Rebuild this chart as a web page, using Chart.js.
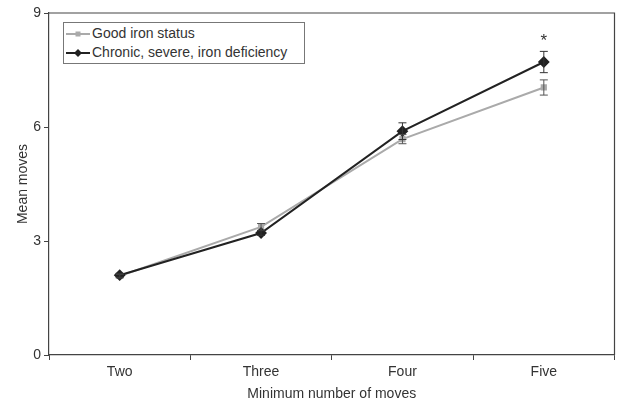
<!DOCTYPE html>
<html>
<head>
<meta charset="utf-8">
<script src="https://cdn.jsdelivr.net/npm/chart.js@4/dist/chart.umd.min.js"></script>
<style>
  body { margin: 0; background: #fff; }
  #wrap { position: relative; width: 621px; height: 407px; }
  #legend {
    position: absolute; left: 63px; top: 22px; width: 240px; height: 40px;
    border: 1px solid #777; background: #fff;
    font: 14px "Liberation Sans", Arial, sans-serif; color: #333;
  }
  .row { position: absolute; left: 2px; height: 18px; line-height: 18px; }
  .row svg { vertical-align: middle; margin-right: 2px; }
</style>
</head>
<body>
<div id="wrap">
  <canvas id="chart" width="621" height="407"></canvas>
  <div id="legend">
    <div class="row" style="top:1px">
      <svg width="24" height="10"><line x1="0" y1="5" x2="24" y2="5" stroke="#aaa" stroke-width="2"/><rect x="9.5" y="2.5" width="5" height="5" fill="#aaa"/></svg>Good iron status
    </div>
    <div class="row" style="top:20px">
      <svg width="24" height="10"><line x1="0" y1="5" x2="24" y2="5" stroke="#222" stroke-width="2"/><polygon points="12,1 16,5 12,9 8,5" fill="#222"/></svg>Chronic, severe, iron deficiency
    </div>
  </div>
</div>
<script>
const categories = ['Two', 'Three', 'Four', 'Five'];
const goodIron = [2.08, 3.37, 5.68, 7.04];
const goodIronErr = [0.05, 0.09, 0.12, 0.2];
const chronic = [2.1, 3.21, 5.89, 7.71];
const chronicErr = [0.05, 0.06, 0.22, 0.28];
const yTicks = [0, 3, 6, 9];
const starAt = 3; // category index with asterisk

const font = { size: 14, family: '"Liberation Sans", Arial' };

const errorBars = {
  id: 'errorBars',
  afterDatasetsDraw(chart) {
    const ctx = chart.ctx;
    const x = chart.scales.x, y = chart.scales.y;
    const errs = [goodIronErr, chronicErr];
    const vals = [goodIron, chronic];
    const cols = ['#555', '#333'];
    vals.forEach((data, i) => {
      data.forEach((v, j) => {
        const px = x.getPixelForValue(j);
        const top = y.getPixelForValue(v + errs[i][j]);
        const bot = y.getPixelForValue(v - errs[i][j]);
        ctx.save();
        ctx.strokeStyle = cols[i];
        ctx.lineWidth = 1;
        ctx.beginPath();
        ctx.moveTo(px, top); ctx.lineTo(px, bot);
        ctx.moveTo(px - 4, top); ctx.lineTo(px + 4, top);
        ctx.moveTo(px - 4, bot); ctx.lineTo(px + 4, bot);
        ctx.stroke();
        ctx.restore();
      });
    });
    // asterisk
    const sx = x.getPixelForValue(starAt);
    const sy = y.getPixelForValue(chronic[starAt] + chronicErr[starAt]) - 2;
    ctx.save();
    ctx.fillStyle = '#333';
    ctx.font = '17px "Liberation Sans", Arial, sans-serif';
    ctx.textAlign = 'center';
    ctx.textBaseline = 'bottom';
    ctx.fillText('*', sx, sy);
    ctx.restore();
  },
  afterDraw(chart) {
    const a = chart.chartArea, ctx = chart.ctx;
    ctx.save();
    ctx.strokeStyle = '#444';
    ctx.lineWidth = 1.2;
    ctx.beginPath();
    ctx.moveTo(a.left, a.top); ctx.lineTo(a.right, a.top); ctx.lineTo(a.right, a.bottom);
    ctx.stroke();
    ctx.restore();
  }
};

new Chart(document.getElementById('chart'), {
  type: 'line',
  data: {
    labels: categories,
    datasets: [
      {
        label: 'Good iron status',
        data: goodIron,
        borderColor: '#aaa',
        backgroundColor: '#aaa',
        borderWidth: 2,
        pointStyle: 'rect',
        pointRadius: 3,
        tension: 0,
        order: 1
      },
      {
        label: 'Chronic, severe, iron deficiency',
        data: chronic,
        borderColor: '#222',
        backgroundColor: '#222',
        borderWidth: 2,
        pointStyle: 'rectRot',
        pointRadius: 4.5,
        tension: 0,
        order: 0
      }
    ]
  },
  options: {
    responsive: false,
    animation: false,
    layout: { padding: { top: 13, right: 2, left: 0, bottom: 0 } },
    plugins: { legend: { display: false }, tooltip: { enabled: false } },
    scales: {
      x: {
        offset: true,
        grid: { offset: true, drawOnChartArea: false, tickLength: 5, color: '#444' },
        border: { color: '#444', width: 1.2 },
        ticks: { color: '#333', font: font, padding: 4 },
        title: { display: true, text: 'Minimum number of moves', color: '#333', font: font, padding: { top: 5 } },
        afterFit(s) { s.height = 52; }
      },
      y: {
        min: 0, max: 9,
        afterBuildTicks(s) { s.ticks = yTicks.map(v => ({ value: v })); },
        grid: { drawOnChartArea: false, tickLength: 5, color: '#444' },
        border: { color: '#444', width: 1.2 },
        ticks: { color: '#333', font: font, padding: 3 },
        title: { display: true, text: 'Mean moves', color: '#333', font: font, padding: { top: 15, bottom: 2 } },
        afterFit(s) { s.width = 49; }
      }
    }
  },
  plugins: [errorBars]
});
</script>
</body>
</html>
